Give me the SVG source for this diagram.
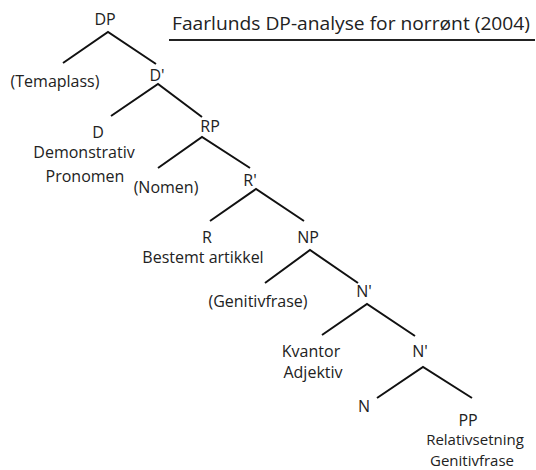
<svg xmlns="http://www.w3.org/2000/svg" width="536" height="470" viewBox="0 0 536 470">
  <style>
    .lbl { font-family: "Open Sans", "Liberation Sans", sans-serif; font-size: 16px; fill: #222; text-anchor: middle; }
    .sm { font-size: 15px; }
    .title { font-family: "Open Sans", "Liberation Sans", sans-serif; font-size: 18px; fill: #222; }
    .edge { stroke: #111; stroke-width: 2; fill: none; stroke-linecap: butt; }
  </style>
  <rect width="536" height="470" fill="#fff"/>

  <g id="title">
    <text class="title" x="172" y="30" textLength="358" lengthAdjust="spacingAndGlyphs">Faarlunds DP-analyse for norrønt (2004)</text>
    <line x1="169" y1="40" x2="535" y2="40" stroke="#222" stroke-width="2"/>
  </g>

  <g id="connectors">
    <path class="edge" d="M63 63 L108 32 L156 64"/>
    <path class="edge" d="M111 116 L158 84 L202 117"/>
    <path class="edge" d="M158 168 L202 137 L250 168"/>
    <path class="edge" d="M210 221 L256 189 L304 221"/>
    <path class="edge" d="M265 283 L310 250 L358 283"/>
    <path class="edge" d="M322 335 L367 304 L415 336"/>
    <path class="edge" d="M377 398 L423 367 L472 398"/>
  </g>

  <g id="n-dp"><text class="lbl" x="105" y="25">DP</text></g>
  <g id="n-temaplass"><text class="lbl" x="55" y="87">(Temaplass)</text></g>
  <g id="n-dbar"><text class="lbl" x="157" y="81">D'</text></g>
  <g id="n-d">
    <text class="lbl" x="98" y="138">D</text>
    <text class="lbl" x="84" y="158">Demonstrativ</text>
    <text class="lbl" x="85" y="182">Pronomen</text>
  </g>
  <g id="n-rp"><text class="lbl" x="210" y="132">RP</text></g>
  <g id="n-nomen"><text class="lbl" x="166" y="193">(Nomen)</text></g>
  <g id="n-rbar"><text class="lbl" x="250" y="186">R'</text></g>
  <g id="n-r">
    <text class="lbl" x="207" y="243">R</text>
    <text class="lbl" x="203" y="263">Bestemt artikkel</text>
  </g>
  <g id="n-np"><text class="lbl" x="308" y="243">NP</text></g>
  <g id="n-genitiv1"><text class="lbl" x="258" y="307">(Genitivfrase)</text></g>
  <g id="n-nbar1"><text class="lbl" x="364" y="297">N'</text></g>
  <g id="n-kvantor">
    <text class="lbl" x="311" y="357">Kvantor</text>
    <text class="lbl" x="313" y="378">Adjektiv</text>
  </g>
  <g id="n-nbar2"><text class="lbl" x="420" y="357">N'</text></g>
  <g id="n-n"><text class="lbl" x="364" y="412">N</text></g>
  <g id="n-pp">
    <text class="lbl" x="468" y="426">PP</text>
    <text class="lbl sm" x="475" y="445">Relativsetning</text>
    <text class="lbl sm" x="472" y="466">Genitivfrase</text>
  </g>
</svg>
